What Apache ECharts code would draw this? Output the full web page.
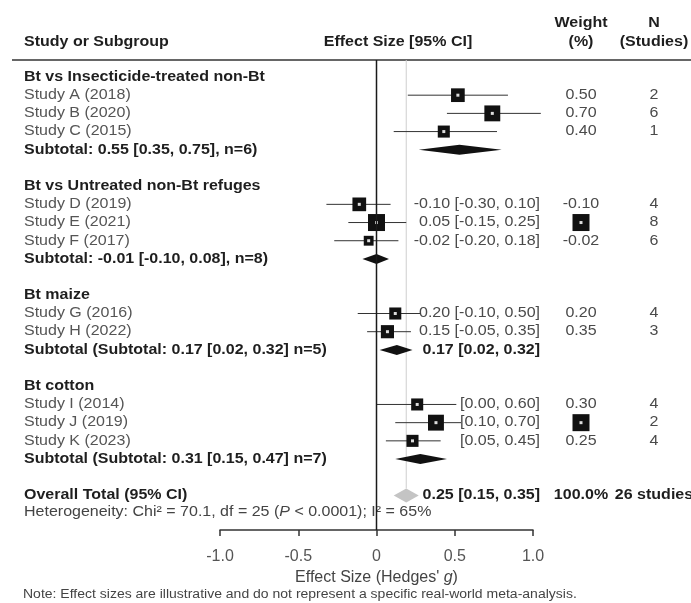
<!DOCTYPE html>
<html>
<head>
<meta charset="utf-8">
<script src="https://cdn.jsdelivr.net/npm/echarts@6/dist/echarts.min.js"></script>
<style>
html,body{margin:0;padding:0;background:#fff;}
#chart{width:691px;height:603px;}
</style>
</head>
<body>
<div id="chart"></div>
<script>
// ---------------- data ----------------
const groupNames = ['Bt vs Insecticide-treated non-Bt', 'Bt vs Untreated non-Bt refuges', 'Bt maize', 'Bt cotton'];
const studyNames = ['Study A (2018)', 'Study B (2020)', 'Study C (2015)', 'Study D (2019)', 'Study E (2021)', 'Study F (2017)', 'Study G (2016)', 'Study H (2022)', 'Study I (2014)', 'Study J (2019)', 'Study K (2023)'];
const studyGroup = [0, 0, 0, 1, 1, 1, 2, 2, 3, 3, 3];
const studyEffect = [0.52, 0.74, 0.43, -0.11, 0.00, -0.05, 0.12, 0.07, 0.26, 0.38, 0.23];
const studyLower = [0.20, 0.45, 0.11, -0.32, -0.18, -0.27, -0.12, -0.06, 0.00, 0.12, 0.06];
const studyUpper = [0.84, 1.05, 0.77, 0.09, 0.19, 0.14, 0.28, 0.22, 0.51, 0.54, 0.41];
const studyWeightRel = [7, 9, 5.5, 7, 10, 3.5, 5.5, 6.5, 5.5, 9, 5.5];
const studyCIText = ['', '', '', '-0.10 [-0.30, 0.10]', '0.05 [-0.15, 0.25]', '-0.02 [-0.20, 0.18]', '0.20 [-0.10, 0.50]', '0.15 [-0.05, 0.35]', '[0.00, 0.60]', '[0.10, 0.70]', '[0.05, 0.45]'];
const studyWeightText = ['0.50', '0.70', '0.40', '-0.10', null, '-0.02', '0.20', '0.35', '0.30', null, '0.25'];
const studyN = ['2', '6', '1', '4', '8', '6', '4', '3', '4', '2', '4'];
const subtotalLabels = ['Subtotal: 0.55 [0.35, 0.75], n=6)', 'Subtotal: -0.01 [-0.10, 0.08], n=8)', 'Subtotal (Subtotal: 0.17 [0.02, 0.32] n=5)', 'Subtotal (Subtotal: 0.31 [0.15, 0.47] n=7)'];
const subtotalEffect = [0.53, 0.00, 0.13, 0.28];
const subtotalLower = [0.27, -0.09, 0.02, 0.12];
const subtotalUpper = [0.80, 0.08, 0.23, 0.45];
const subtotalCIText = ['', '', '0.17 [0.02, 0.32]', ''];
const overallLabel = 'Overall Total (95% CI)';
const overallEffect = 0.19, overallLower = 0.11, overallUpper = 0.27;
const overallCIText = '0.25 [0.15, 0.35]';
const overallWeightText = '100.0%';
const overallNText = '26 studies';
const heterogeneityText = 'Heterogeneity: Chi\u00B2 = 70.1, df = 25 ({i|P} < 0.0001); I\u00B2 = 65%';
const tickLabels = ['-1.0', '-0.5', '0', '0.5', '1.0'];
const noteText = 'Note: Effect sizes are illustrative and do not represent a specific real-world meta-analysis.';

// ---------------- layout (rows) ----------------
const FONT = "'Liberation Sans', Arial, Helvetica, sans-serif";
const SY = 0.86;               // vertical squeeze of text
const HEADER_LINE_Y = 60;
const X_LEFT_TEXT = 24, X_CI_RIGHT = 540, X_WEIGHT = 581, X_N = 654;
const Y_MIN = -1, Y_MAX = 24.9;

const textRows = [];
const markData = [];   // [kind, row, est, lo, hi, w]
let r = 0;
groupNames.forEach(function (g, gi) {
  textRows.push({ row: r, label: g, bold: true });
  r++;
  studyNames.forEach(function (name, si) {
    if (studyGroup[si] !== gi) return;
    textRows.push({ row: r, label: name, bold: false, ci: studyCIText[si], weight: studyWeightText[si], n: studyN[si] });
    markData.push([0, r, studyEffect[si], studyLower[si], studyUpper[si], studyWeightRel[si]]);
    r++;
  });
  textRows.push({ row: r, label: subtotalLabels[gi], bold: true, ci: subtotalCIText[gi], ciBold: true });
  markData.push([1, r, subtotalEffect[gi], subtotalLower[gi], subtotalUpper[gi], 0]);
  r++;
  r++; // blank spacer
});
const overallRow = r;
textRows.push({ row: overallRow, label: overallLabel, bold: true, ci: overallCIText, ciBold: true, weight: overallWeightText, n: overallNText, colBold: true });
markData.push([2, overallRow, overallEffect, overallLower, overallUpper, 0]);
// reference lines: zero line and overall-effect line
markData.unshift([4, overallRow, overallEffect, overallEffect, overallEffect, 0]);
markData.unshift([3, Y_MAX, 0, 0, 0, 0]);

function txt(x, y, text, opt) {
  opt = opt || {};
  return {
    type: 'text', x: x, y: y, scaleX: 1, scaleY: SY,
    style: {
      text: text,
      fontFamily: FONT,
      fontSize: opt.size || 16,
      fontWeight: opt.bold ? 'bold' : 'normal',
      fill: opt.color || (opt.bold ? '#1e1e1e' : '#4a4a4a'),
      align: opt.align || 'left',
      verticalAlign: 'middle',
      rich: opt.rich
    }
  };
}

function weightSquare(cx, cy) {
  const s = 17;
  return [
    { type: 'rect', shape: { x: cx - s / 2, y: cy - s / 2, width: s, height: s }, style: { fill: '#111' } },
    { type: 'rect', shape: { x: cx - 1.5, y: cy - 1.5, width: 3, height: 3 }, style: { fill: '#ddd' } }
  ];
}

function renderText(params, api) {
  const rec = textRows[params.dataIndex];
  const y = api.coord([0, rec.row])[1];
  const ch = [];
  ch.push(txt(X_LEFT_TEXT, y, rec.label, { bold: rec.bold, color: rec.bold ? '#1e1e1e' : '#555' }));
  if (rec.ci) ch.push(txt(X_CI_RIGHT, y, rec.ci, { bold: !!rec.ciBold, align: 'right' }));
  if (rec.weight !== undefined) {
    if (rec.weight === null) weightSquare(X_WEIGHT, y).forEach(function (e) { ch.push(e); });
    else ch.push(txt(X_WEIGHT, y, rec.weight, { bold: !!rec.colBold, align: 'center' }));
  }
  if (rec.n) ch.push(txt(X_N, y, rec.n, { bold: !!rec.colBold, align: 'center' }));
  return { type: 'group', children: ch };
}

function renderMarks(params, api) {
  const kind = api.value(0), row = api.value(1);
  const est = api.value(2), lo = api.value(3), hi = api.value(4), w = api.value(5);
  const c = api.coord([est, row]);
  if (kind === 3) {
    const bottom = api.coord([est, Y_MAX])[1];
    return { type: 'line', shape: { x1: c[0], y1: HEADER_LINE_Y, x2: c[0], y2: bottom }, style: { stroke: '#1a1a1a', lineWidth: 1.5 }, z2: 1 };
  }
  if (kind === 4) {
    return { type: 'line', shape: { x1: c[0], y1: HEADER_LINE_Y, x2: c[0], y2: c[1] - 7 }, style: { stroke: '#cfcfcf', lineWidth: 1 }, z2: 0 };
  }
  const pl = api.coord([lo, row]), ph = api.coord([hi, row]);
  if (kind === 0) {
    const s = 6 + 1.1 * w;
    return {
      type: 'group', children: [
        { type: 'line', shape: { x1: pl[0], y1: c[1], x2: ph[0], y2: c[1] }, style: { stroke: '#333', lineWidth: 1 } },
        { type: 'rect', shape: { x: c[0] - s / 2, y: c[1] - s / 2, width: s, height: s }, style: { fill: '#111' } },
        { type: 'rect', shape: { x: c[0] - 1.5, y: c[1] - 1.5, width: 3, height: 3 }, style: { fill: '#ddd' } }
      ]
    };
  }
  const h = kind === 1 ? 5 : 7;
  return {
    type: 'polygon',
    shape: { points: [[pl[0], c[1]], [c[0], c[1] - h], [ph[0], c[1]], [c[0], c[1] + h]] },
    style: { fill: kind === 1 ? '#111' : '#c4c4c4' }
  };
}

const chart = echarts.init(document.getElementById('chart'), null, { renderer: 'canvas' });
chart.setOption({
  animation: false,
  backgroundColor: '#fff',
  grid: { left: 220, width: 313, top: 58.8, height: 471.2, containLabel: false },
  xAxis: {
    type: 'value', min: -1, max: 1, interval: 0.5, position: 'bottom',
    axisLine: { show: true, onZero: false, lineStyle: { color: '#333', width: 1.5 } },
    axisTick: { show: true, length: 6, lineStyle: { color: '#333', width: 1.5 } },
    axisLabel: {
      margin: 19, fontFamily: FONT, fontSize: 16, color: '#555',
      formatter: function (v) { return tickLabels[Math.round((v + 1) / 0.5)]; }
    },
    splitLine: { show: false },
    name: "Effect Size (Hedges' {i|g})",
    nameLocation: 'middle', nameGap: 39,
    nameTextStyle: { fontFamily: FONT, fontSize: 16, color: '#444', rich: { i: { fontStyle: 'italic', fontFamily: FONT, fontSize: 16, color: '#444' } } }
  },
  yAxis: { type: 'value', inverse: true, min: Y_MIN, max: Y_MAX, show: false },
  series: [
    {
      type: 'custom', coordinateSystem: 'cartesian2d', clip: false, z: 2,
      encode: { x: 0, y: 1 },
      data: textRows.map(function (t) { return [0, t.row]; }),
      renderItem: renderText
    },
    {
      type: 'custom', coordinateSystem: 'cartesian2d', clip: false, z: 3,
      encode: { x: [2, 3, 4], y: 1 },
      data: markData,
      renderItem: renderMarks
    }
  ],
  graphic: [
    { type: 'line', shape: { x1: 12, y1: HEADER_LINE_Y, x2: 691, y2: HEADER_LINE_Y }, style: { stroke: '#333', lineWidth: 1.5 } },
    txt(X_LEFT_TEXT, 42, 'Study or Subgroup', { bold: true }),
    txt(398, 42, 'Effect Size [95% CI]', { bold: true, align: 'center' }),
    txt(X_WEIGHT, 23, 'Weight', { bold: true, align: 'center' }),
    txt(X_WEIGHT, 42, '(%)', { bold: true, align: 'center' }),
    txt(X_N, 23, 'N', { bold: true, align: 'center' }),
    txt(X_N, 42, '(Studies)', { bold: true, align: 'center' }),
    txt(X_LEFT_TEXT, 512, heterogeneityText, { color: '#444', rich: { i: { fontStyle: 'italic', fontFamily: FONT, fontSize: 16, fill: '#444' } } }),
    txt(X_LEFT_TEXT - 1, 595, noteText, { size: 14, color: '#444' })
  ]
});
</script>
</body>
</html>
